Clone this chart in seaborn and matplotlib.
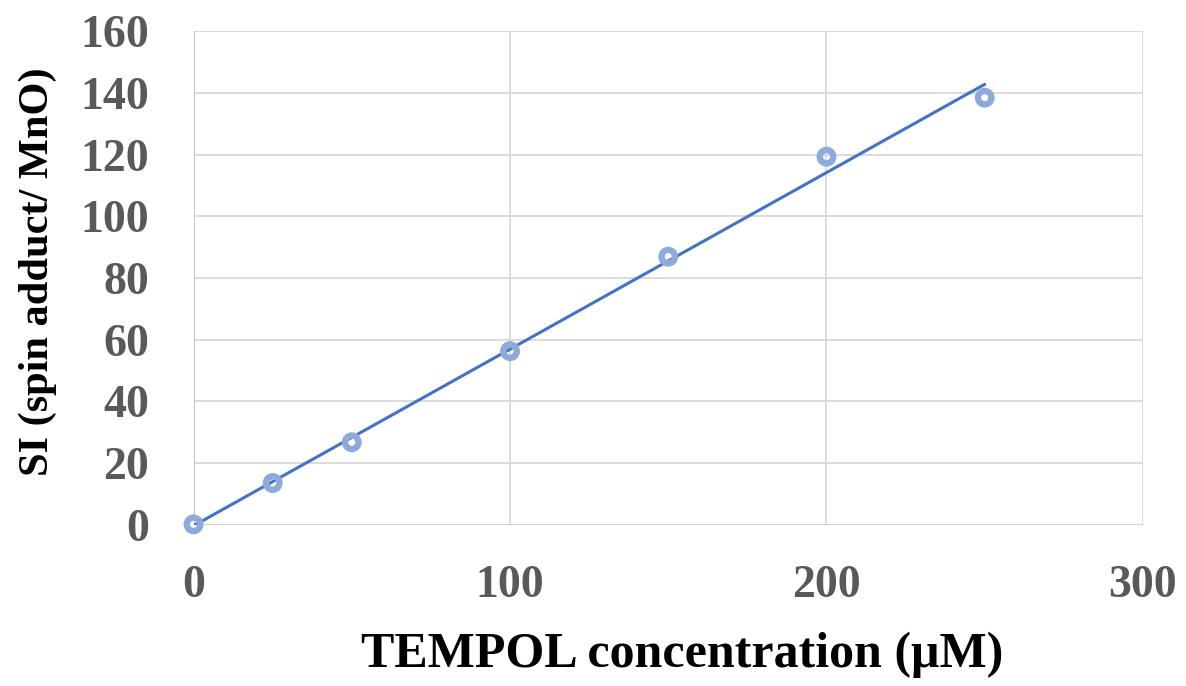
import matplotlib
matplotlib.use("Agg")
import matplotlib.pyplot as plt
import seaborn as sns
import pandas as pd
import numpy as np

# Data
tempol_conc = [0, 25, 50, 100, 150, 200, 250]
si_values = [0.2, 13.6, 26.8, 56.3, 86.9, 119.3, 138.4]
x_ticks = [0, 100, 200, 300]
y_ticks = [0, 20, 40, 60, 80, 100, 120, 140, 160]

df = pd.DataFrame({"conc": tempol_conc, "si": si_values})

sns.set_theme(style="white")
plt.rcParams["font.family"] = ["Liberation Serif", "DejaVu Serif"]

fig = plt.figure(figsize=(11.86, 6.86), dpi=100)
ax = fig.add_axes([0.1632, 0.2347, 0.8005, 0.7201])

# linear trend line
sns.regplot(data=df, x="conc", y="si", ax=ax, scatter=False, ci=None,
            line_kws=dict(color="#4472c4", lw=2.2, zorder=3))
# open circle markers
sns.scatterplot(data=df, x="conc", y="si", ax=ax, marker="o", s=95,
                facecolor="none", edgecolor="#8eaadb", linewidth=4.6,
                zorder=4, clip_on=False)

ax.set_xlim(0, 300)
ax.set_ylim(0, 160)
ax.set_xticks(x_ticks)
ax.set_yticks(y_ticks)
ax.grid(True, color="#d9d9d9", lw=1.3)
ax.set_axisbelow(True)
for s in ax.spines.values():
    s.set_visible(False)
ax.axvline(0, color="#bfbfbf", lw=1.3, zorder=1)
ax.axhline(0, color="#d0d0d0", lw=1.3, zorder=1)

ax.tick_params(axis="both", length=0, labelsize=33, labelcolor="#595959")
ax.tick_params(axis="y", pad=32)
ax.tick_params(axis="x", pad=29)
for lab in ax.get_xticklabels() + ax.get_yticklabels():
    lab.set_fontweight("bold")

ax.set_xlabel("TEMPOL concentration (μM)", fontsize=36, fontweight="bold",
              color="black")
ax.set_ylabel("SI (spin adduct/ MnO)", fontsize=30.5, fontweight="bold",
              color="black")
ax.xaxis.set_label_coords(0.5145, -0.263)
ax.xaxis.label.set_va("center")
ax.yaxis.set_label_coords(-0.164, 0.512)
ax.yaxis.label.set_va("center")

fig.savefig("out.png", dpi=100)
